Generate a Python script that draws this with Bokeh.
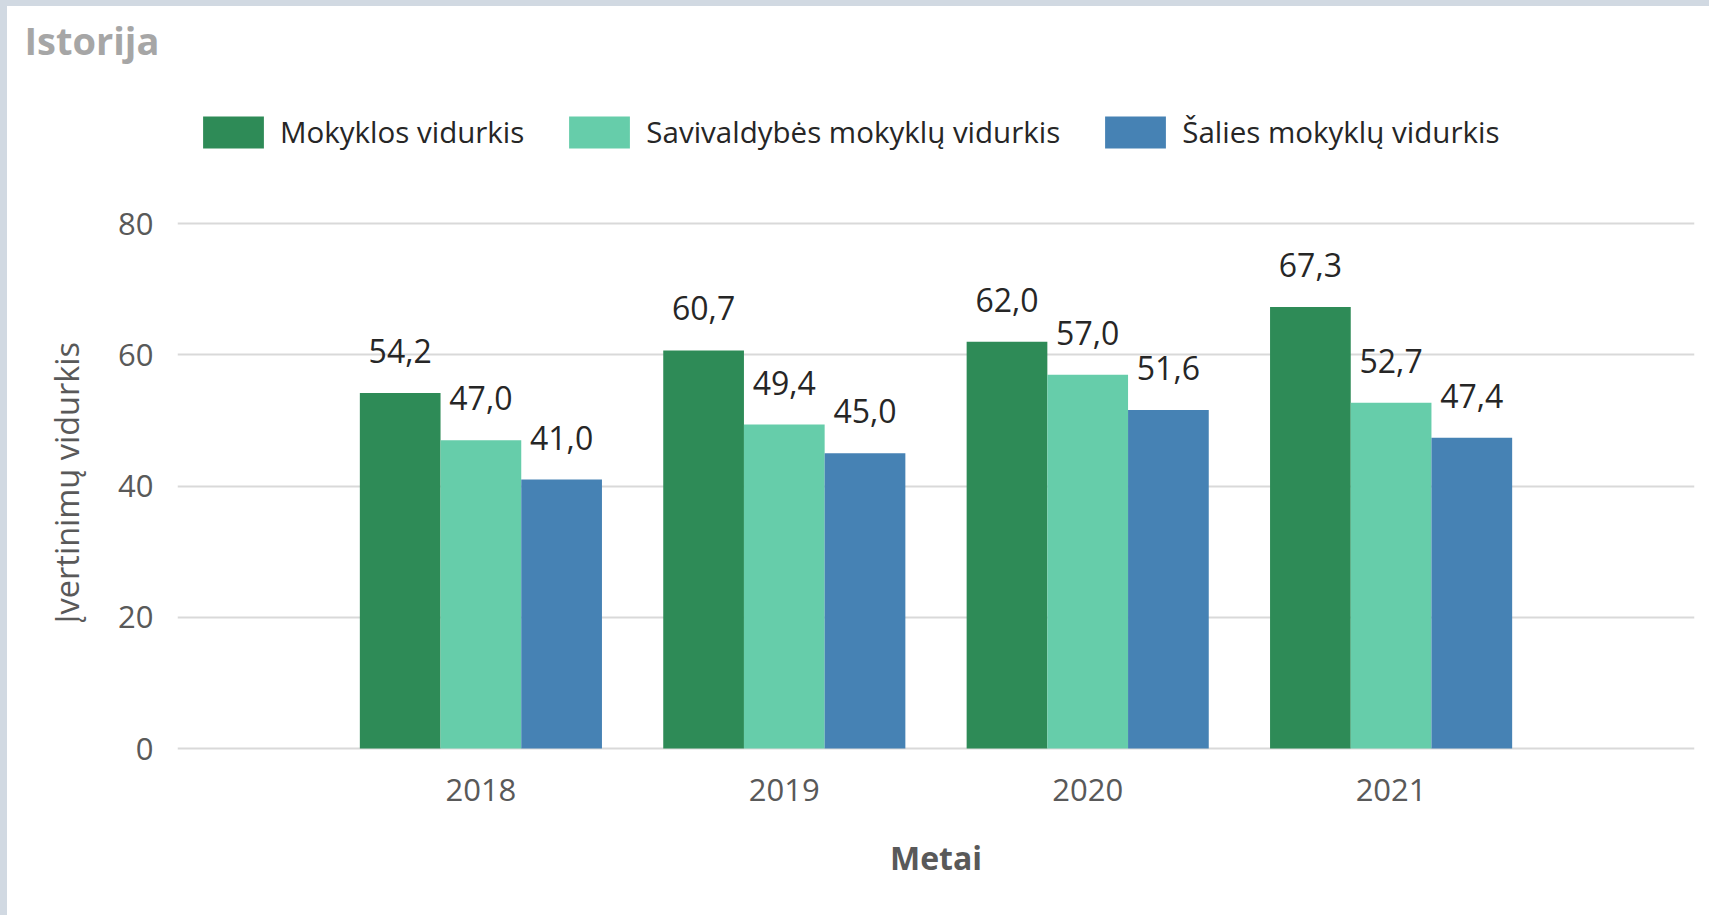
import numpy as np
from bokeh.plotting import figure
from bokeh.models import ColumnDataSource, Range1d, FixedTicker, LabelSet, Legend, LegendItem, Title
from bokeh.core.properties import value
from bokeh.embed import file_html
from bokeh.resources import INLINE

# ---- data ----
years = ["2018", "2019", "2020", "2021"]
mokyklos = [54.2, 60.7, 62.0, 67.3]
savivaldybes = [47.0, 49.4, 57.0, 52.7]
salies = [41.0, 45.0, 51.6, 47.4]
series_names = ["Mokyklos vidurkis", "Savivaldybės mokyklų vidurkis", "Šalies mokyklų vidurkis"]
series_values = [mokyklos, savivaldybes, salies]
y_ticks = [0, 20, 40, 60, 80]

# ---- style ----
colors = ["#2E8B57", "#66CDAA", "#4682B4"]
FONT = "Open Sans"
BAR_W = 0.266
offsets = [-BAR_W, 0.0, BAR_W]

# frame extends above the 80 gridline so the legend (inside the frame) is not clipped
p = figure(width=1709, height=915, output_backend="svg", toolbar_location=None,
           x_range=Range1d(0, len(years) + 1), y_range=Range1d(-0.3, 103.22),
           min_border_left=170, min_border_right=22, min_border_top=62, min_border_bottom=171,
           background_fill_color="white", border_fill_color="white")
p.outline_line_color = None
p.styles = {"border-top": "6px solid #D1D9E2", "border-left": "7px solid #D1D9E2"}

xpos = np.arange(1, len(years) + 1)
items = []
for name, vals, col, off in zip(series_names, series_values, colors, offsets):
    src = ColumnDataSource(dict(x=xpos + off, top=vals,
                                lab=[f"{v:.1f}".replace(".", ",") for v in vals]))
    r = p.vbar(x="x", top="top", width=BAR_W, bottom=0, source=src,
               fill_color=col, line_color=None)
    items.append(LegendItem(label=name, renderers=[r]))
    ls = LabelSet(x="x", y="top", text="lab", source=src, y_offset=30,
                  text_align="center", text_baseline="alphabetic",
                  text_font=value(FONT), text_font_size=value("32px"), text_color="#262626")
    p.add_layout(ls)

legend = Legend(items=items, orientation="horizontal", location=(18, 598),
                glyph_width=76, glyph_height=40, label_standoff=9, spacing=37,
                padding=0, margin=0, border_line_color=None, background_fill_alpha=0,
                label_text_font=FONT, label_text_font_size="29.5px", label_text_color="#262626")
p.add_layout(legend, "center")

# title
p.title.text = "Istorija"
p.title.align = "left"
p.title.offset = -153
p.title.standoff = 11
p.title.text_font = FONT
p.title.text_font_style = "bold"
p.title.text_font_size = "38px"
p.title.text_color = "#A6A6A6"

# axes
p.xaxis.ticker = FixedTicker(ticks=list(xpos))
p.xaxis.major_label_overrides = {int(i): y for i, y in zip(xpos, years)}
p.yaxis.ticker = FixedTicker(ticks=y_ticks)
for ax in (p.xaxis, p.yaxis):
    ax.axis_line_color = None
    ax.major_tick_line_color = None
    ax.minor_tick_line_color = None
    ax.major_label_text_font = FONT
    ax.major_label_text_font_size = "31px"
    ax.major_label_text_color = "#595959"

p.xaxis.major_label_standoff = 22
p.yaxis.major_label_standoff = 18
p.xaxis.axis_label = "Metai"
p.xaxis.axis_label_text_font = FONT
p.xaxis.axis_label_text_color = "#595959"
p.xaxis.axis_label_text_font_style = "bold"
p.xaxis.axis_label_text_font_size = "32px"
p.xaxis.axis_label_standoff = 32

# y-axis title placed alongside the 0-80 part of the axis
ytitle = Title(text="Įvertinimų vidurkis", align="left", offset=127, standoff=54,
               text_font=FONT, text_font_size="32.5px", text_font_style="normal",
               text_color="#595959")
p.add_layout(ytitle, "left")

p.xgrid.grid_line_color = None
p.ygrid.grid_line_color = "#D9D9D9"
p.ygrid.grid_line_width = 2

open("out.html", "w").write(file_html(p, INLINE))
